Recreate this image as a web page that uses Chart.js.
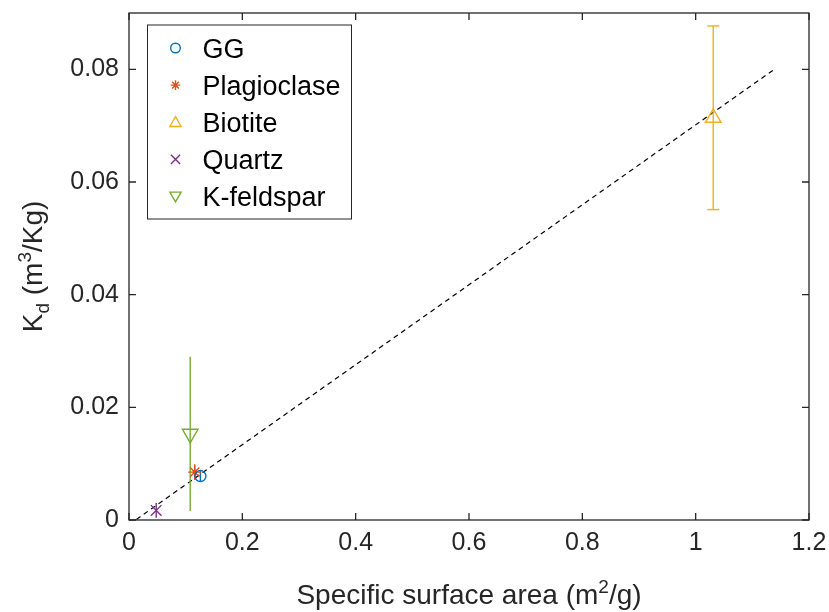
<!DOCTYPE html>
<html>
<head>
<meta charset="utf-8">
<script src="https://cdn.jsdelivr.net/npm/chart.js@4/dist/chart.umd.min.js"></script>
<style>
  html, body { margin: 0; padding: 0; background: #fff; }
  #wrap { width: 829px; height: 612px; }
</style>
</head>
<body>
<div id="wrap"><canvas id="chartKd" width="829" height="612"></canvas></div>
<script>
// data
const seriesNames = ['GG', 'Plagioclase', 'Biotite', 'Quartz', 'K-feldspar'];
const ssa   = [0.126, 0.116, 1.031, 0.048, 0.108];      // m2/g
const kd    = [0.0078, 0.0085, 0.0714, 0.0017, 0.0153]; // m3/Kg
const kdErr = [0.0009, 0.0014, 0.0163, 0.0013, 0.0137];
const fitX  = [0.013, 1.136];
const fitY  = [0.0001, 0.0798];
const xTicks = [0, 0.2, 0.4, 0.6, 0.8, 1, 1.2];
const yTicks = [0, 0.02, 0.04, 0.06, 0.08];

const COLORS = ['#0072BD', '#D95319', '#EDB120', '#7E2F8E', '#77AC30'];
const MARKERS = [
  { style: 'circle', r: 5.5, rot: 0 },
  { style: 'star', r: 6.5, rot: 0 },
  { style: 'triangle', r: 9, rot: 0 },
  { style: 'crossRot', r: 7.5, rot: 0 },
  { style: 'triangle', r: 9, rot: 180 },
];
const CAPS = [false, false, true, false, false];
const FONT = "'Liberation Sans', Arial, Helvetica, sans-serif";
const AXIS_COLOR = '#262626';

const fmt = v => String(+Number(v).toFixed(3));

function buildDatasets() {
  const ds = [];
  ds.push({
    type: 'line',
    data: fitX.map((x, i) => ({ x, y: fitY[i] })),
    borderColor: '#000', borderWidth: 1.2, borderDash: [5, 4],
    pointRadius: 0, fill: false, order: 3,
  });
  seriesNames.forEach((name, i) => {
    ds.push({
      type: 'line',
      data: [{ x: ssa[i], y: kd[i] - kdErr[i] }, { x: ssa[i], y: kd[i] + kdErr[i] }],
      borderColor: COLORS[i], borderWidth: 1.4,
      pointStyle: 'line', pointRadius: CAPS[i] ? 6 : 0,
      pointBorderColor: COLORS[i], pointBorderWidth: 1.4,
      fill: false, order: 2,
    });
    ds.push({
      type: 'scatter',
      label: name,
      data: [{ x: ssa[i], y: kd[i] }],
      pointStyle: MARKERS[i].style,
      pointRadius: MARKERS[i].r,
      pointRotation: MARKERS[i].rot,
      pointBorderColor: COLORS[i],
      pointBackgroundColor: 'rgba(0,0,0,0)',
      pointBorderWidth: 1.4,
      order: 1,
    });
  });
  return ds;
}

function drawMarker(ctx, m, x, y, r, color) {
  ctx.save();
  ctx.strokeStyle = color;
  ctx.lineWidth = 1.4;
  ctx.beginPath();
  if (m.style === 'circle') {
    ctx.arc(x, y, r, 0, Math.PI * 2);
  } else if (m.style === 'triangle') {
    const s = m.rot ? -1 : 1;
    ctx.moveTo(x, y - s * r);
    ctx.lineTo(x + r * 0.866, y + s * r * 0.5);
    ctx.lineTo(x - r * 0.866, y + s * r * 0.5);
    ctx.closePath();
  } else if (m.style === 'crossRot') {
    const d = r * 0.707;
    ctx.moveTo(x - d, y - d); ctx.lineTo(x + d, y + d);
    ctx.moveTo(x + d, y - d); ctx.lineTo(x - d, y + d);
  } else if (m.style === 'star') {
    const d = r * 0.707;
    ctx.moveTo(x - d, y - d); ctx.lineTo(x + d, y + d);
    ctx.moveTo(x + d, y - d); ctx.lineTo(x - d, y + d);
    ctx.moveTo(x, y - r); ctx.lineTo(x, y + r);
    ctx.moveTo(x - r, y); ctx.lineTo(x + r, y);
  }
  ctx.stroke();
  ctx.restore();
}

// text with sub/superscripts, centred on 0
function drawRich(ctx, parts) {
  const widths = parts.map(p => { ctx.font = p.s + 'px ' + FONT; return ctx.measureText(p.t).width; });
  let x = -widths.reduce((a, b) => a + b, 0) / 2;
  parts.forEach((p, i) => {
    ctx.font = p.s + 'px ' + FONT;
    ctx.fillText(p.t, x, p.dy || 0);
    x += widths[i];
  });
}

const matlabAxes = {
  id: 'matlabAxes',
  afterDraw(chart) {
    const { ctx, chartArea: a, scales } = chart;
    ctx.save();
    // box
    ctx.strokeStyle = AXIS_COLOR;
    ctx.lineWidth = 1.3;
    ctx.strokeRect(a.left, a.top, a.right - a.left, a.bottom - a.top);
    // inward ticks on all sides
    const tl = 7;
    ctx.beginPath();
    xTicks.forEach(v => {
      const px = scales.x.getPixelForValue(v);
      ctx.moveTo(px, a.bottom); ctx.lineTo(px, a.bottom - tl);
      ctx.moveTo(px, a.top); ctx.lineTo(px, a.top + tl);
    });
    yTicks.forEach(v => {
      const py = scales.y.getPixelForValue(v);
      ctx.moveTo(a.left, py); ctx.lineTo(a.left + tl, py);
      ctx.moveTo(a.right, py); ctx.lineTo(a.right - tl, py);
    });
    ctx.stroke();

    // axis titles
    ctx.fillStyle = AXIS_COLOR;
    ctx.textBaseline = 'alphabetic';
    ctx.textAlign = 'left';
    ctx.save();
    ctx.translate((a.left + a.right) / 2, 604);
    drawRich(ctx, [
      { t: 'Specific surface area (m', s: 28 },
      { t: '2', s: 19, dy: -11 },
      { t: '/g)', s: 28 },
    ]);
    ctx.restore();
    ctx.save();
    ctx.translate(42, (a.top + a.bottom) / 2);
    ctx.rotate(-Math.PI / 2);
    drawRich(ctx, [
      { t: 'K', s: 28 },
      { t: 'd', s: 19, dy: 7 },
      { t: ' (m', s: 28 },
      { t: '3', s: 19, dy: -11 },
      { t: '/Kg)', s: 28 },
    ]);
    ctx.restore();

    // legend box, top-left inside the axes
    const lx = 147.5, ly = 25, lw = 204, lh = 194;
    ctx.fillStyle = '#fff';
    ctx.fillRect(lx, ly, lw, lh);
    ctx.strokeStyle = AXIS_COLOR;
    ctx.lineWidth = 1;
    ctx.strokeRect(lx, ly, lw, lh);
    ctx.font = '27px ' + FONT;
    ctx.fillStyle = '#000';
    seriesNames.forEach((name, i) => {
      const cy = 48 + i * 37.1;
      const m = MARKERS[i];
      const r = m.style === 'triangle' ? 6.5 : (m.style === 'crossRot' ? 6.5 : 4.8);
      drawMarker(ctx, m, 175.5, cy + (m.style === 'triangle' ? (m.rot ? -1 : 1) : 0), r, COLORS[i]);
      ctx.fillText(name, 202.5, cy + 9.5);
    });
    ctx.restore();
  }
};

const tickFont = { family: FONT, size: 25 };

new Chart(document.getElementById('chartKd'), {
  type: 'scatter',
  data: { datasets: buildDatasets() },
  options: {
    responsive: false,
    animation: false,
    layout: { padding: { top: 13, right: 20, left: 0, bottom: 0 } },
    plugins: { legend: { display: false }, tooltip: { enabled: false } },
    scales: {
      x: {
        type: 'linear', min: 0, max: 1.2,
        afterBuildTicks: s => { s.ticks = xTicks.map(v => ({ value: v })); },
        afterFit: s => { s.height = 92; s.paddingLeft = 0; s.paddingRight = 0; },
        ticks: { font: tickFont, color: AXIS_COLOR, padding: 8, maxRotation: 0, autoSkip: false, callback: fmt },
        grid: { display: false, drawTicks: false },
        border: { display: false },
      },
      y: {
        type: 'linear', min: 0, max: 0.09,
        afterBuildTicks: s => { s.ticks = yTicks.map(v => ({ value: v })); },
        afterFit: s => { s.width = 129; s.paddingTop = 0; s.paddingBottom = 0; },
        ticks: { font: tickFont, color: AXIS_COLOR, padding: 10, autoSkip: false, callback: fmt },
        grid: { display: false, drawTicks: false },
        border: { display: false },
      },
    },
  },
  plugins: [matlabAxes],
});
</script>
</body>
</html>
